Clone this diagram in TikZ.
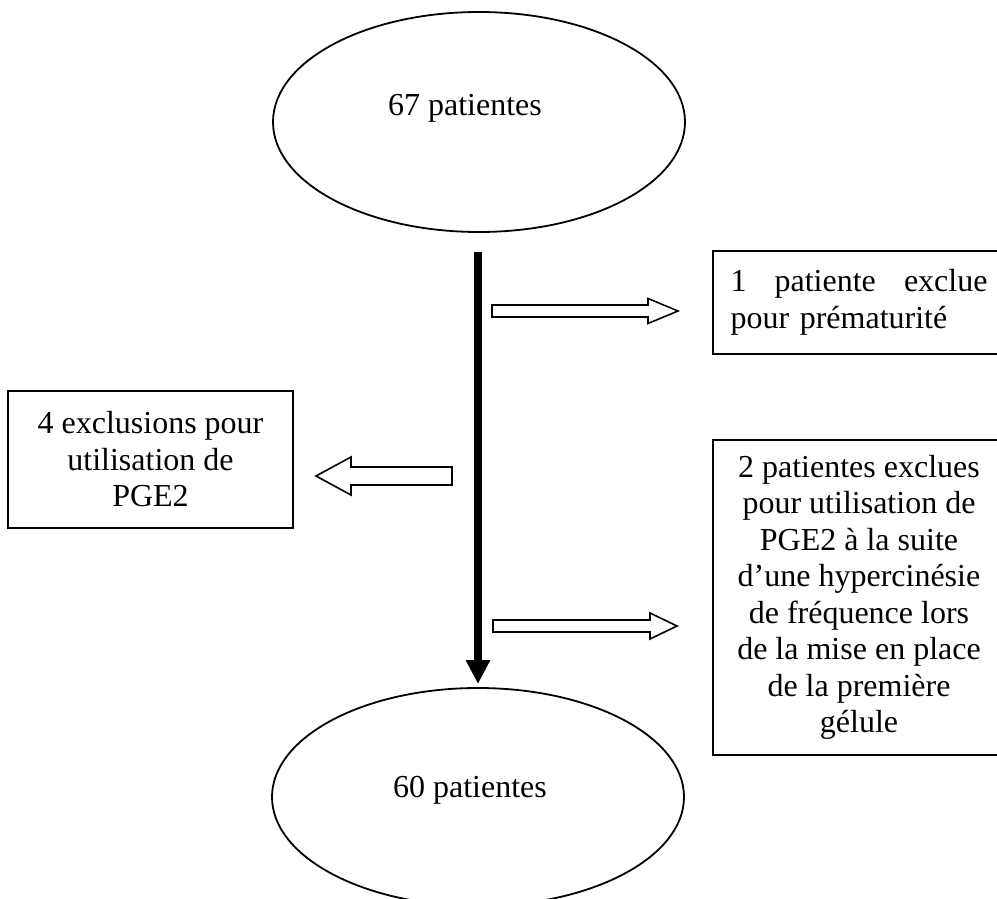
\documentclass[tikz,border=0pt]{standalone}
\usepackage{fontspec}
\setmainfont{Liberation Serif}
\usetikzlibrary{shapes.geometric,arrows.meta}
\tikzset{
  txt/.style={font=\fontsize{32}{36.5}\selectfont, inner sep=0pt},
  oval/.style={draw, line width=1.8pt, ellipse, minimum width=412pt, minimum height=220pt, inner sep=0pt},
  box/.style={draw, line width=1.8pt, rectangle, inner sep=0pt, font=\fontsize{32}{36.5}\selectfont},
  hollow/.style={draw, line width=1.6pt, fill=white, line join=miter},
  flow/.style={line width=8pt, -{Triangle[length=24pt,width=23pt]}}
}
\begin{document}
\begin{tikzpicture}[x=1pt,y=-1pt]
\useasboundingbox (0,0) rectangle (997,899);
% ellipses
\node[oval] (top) at (479,122) {};
\node[txt] (ttop) at (465,108) {67 patientes};
\node[oval, minimum height=218pt] (bot) at (478,797) {};
\node[txt] (tbot) at (470,790) {60 patientes};
% boxes
\node[box, minimum width=292pt, minimum height=103pt, text width=257pt, align=left] (b1) at (859,302.5)
  {1\hfill patiente\hfill exclue\\pour prématurité};
\node[box, minimum width=285pt, minimum height=137pt, align=center] (b2) at (150.5,459.5)
  {4 exclusions pour\\utilisation de\\PGE2};
\node[box, minimum width=292pt, minimum height=315pt, align=center] (b3) at (859,597.5)
  {2 patientes exclues\\pour utilisation de\\PGE2 à la suite\\d’une hypercinésie\\de fréquence lors\\de la mise en place\\de la première\\gélule};
% main flow arrow
\coordinate (vstart) at (478,252);
\coordinate (vend) at (478,684);
\draw[flow] (vstart) -- (vend);
% hollow block arrows
\coordinate (r1) at (492,311);
\coordinate (r2) at (493,626);
\coordinate (l1) at (452,476);
\draw[hollow] (r1) ++(0,-6) -- ++(156,0) -- ++(0,-6.5) -- ++(30,12.5) -- ++(-30,12.5) -- ++(0,-6.5) -- ++(-156,0) -- cycle;
\draw[hollow] (r2) ++(0,-6) -- ++(157,0) -- ++(0,-7) -- ++(27,13) -- ++(-27,13) -- ++(0,-7) -- ++(-157,0) -- cycle;
\draw[hollow] (l1) ++(0,-9) -- ++(-101,0) -- ++(0,-10) -- ++(-35,19) -- ++(35,19) -- ++(0,-10) -- ++(101,0) -- cycle;
\end{tikzpicture}
\end{document}
